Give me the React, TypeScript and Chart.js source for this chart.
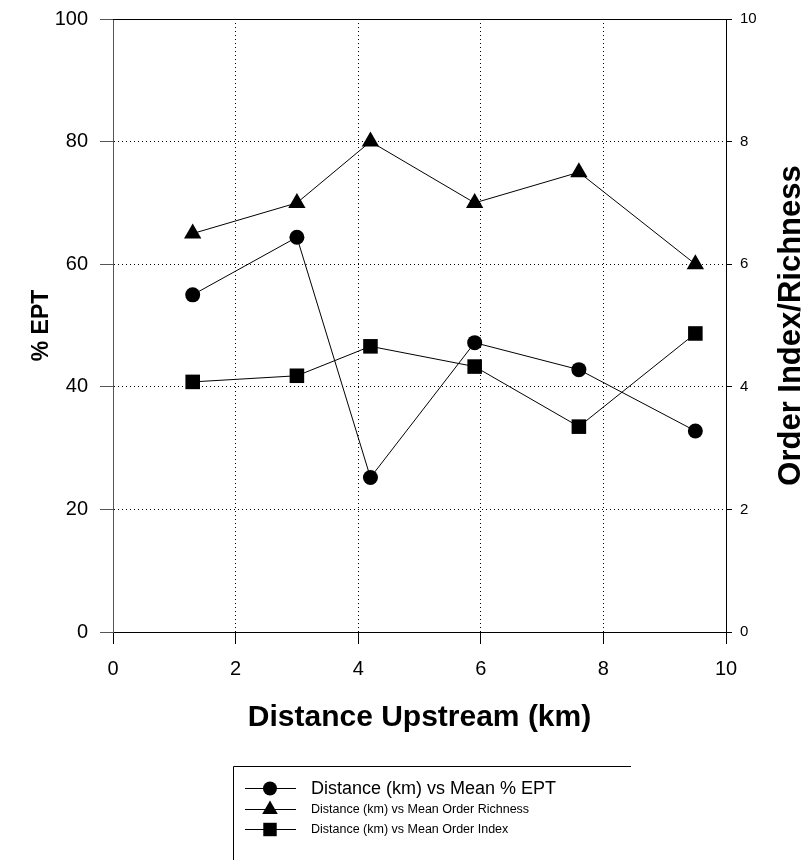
import React, { useEffect, useRef } from 'react';
import { Chart, registerables } from 'chart.js';

Chart.register(...registerables);

// ---- data ----
const distances = [1.3, 3.0, 4.2, 5.9, 7.6, 9.5];
const meanEPT = [55.0, 64.4, 25.2, 47.2, 42.8, 32.8];
const meanOrderRichness = [6.5, 7.0, 8.0, 7.0, 7.5, 6.0];
const meanOrderIndex = [4.08, 4.18, 4.66, 4.33, 3.35, 4.87];
const seriesLabels = [
  'Distance (km) vs Mean % EPT',
  'Distance (km) vs Mean Order Richness',
  'Distance (km) vs Mean Order Index',
];
const xTitle = 'Distance Upstream (km)';
const yTitle = '% EPT';
const y2Title = 'Order Index/Richness';

const FONT = '"Liberation Sans", Arial, Helvetica, sans-serif';

const toPoints = (xs: number[], ys: number[]) => xs.map((x, i) => ({ x, y: ys[i] }));

function drawMarker(ctx: CanvasRenderingContext2D, style: string, x: number, y: number, r: number) {
  ctx.beginPath();
  if (style === 'circle') {
    ctx.arc(x, y, r, 0, Math.PI * 2);
  } else if (style === 'triangle') {
    const w = r * Math.sin(Math.PI / 3);
    ctx.moveTo(x, y - r);
    ctx.lineTo(x + w, y + r / 2);
    ctx.lineTo(x - w, y + r / 2);
    ctx.closePath();
  } else {
    const s = r * Math.SQRT1_2;
    ctx.rect(x - s, y - s, 2 * s, 2 * s);
  }
  ctx.fill();
}

const decorPlugin = {
  id: 'decor',
  afterDraw(chart: any) {
    const { ctx, chartArea: a } = chart;
    ctx.save();
    // top frame line
    ctx.strokeStyle = '#000';
    ctx.lineWidth = 1;
    ctx.beginPath();
    ctx.moveTo(a.left, Math.round(a.top) + 0.5);
    ctx.lineTo(a.right + 1, Math.round(a.top) + 0.5);
    ctx.stroke();

    ctx.fillStyle = '#000';
    ctx.textAlign = 'center';
    ctx.textBaseline = 'middle';
    const cy = (a.top + a.bottom) / 2;
    // x title
    ctx.font = `bold 30px ${FONT}`;
    ctx.fillText(xTitle, (a.left + a.right) / 2, a.bottom + 86);
    // left title
    ctx.save();
    ctx.translate(42, cy);
    ctx.rotate(-Math.PI / 2);
    ctx.font = `bold 23px ${FONT}`;
    ctx.fillText(yTitle, 0, 0);
    ctx.restore();
    // right title
    ctx.save();
    ctx.translate(791, cy);
    ctx.rotate(-Math.PI / 2);
    ctx.font = `bold 31px ${FONT}`;
    ctx.fillText(y2Title, 0, 0);
    ctx.restore();

    // legend
    const lx = 233.5, ly = 766.5;
    ctx.beginPath();
    ctx.moveTo(lx, 870);
    ctx.lineTo(lx, ly);
    ctx.lineTo(631, ly);
    ctx.stroke();
    const rows = [788, 809, 829];
    const sizes = [18, 12.5, 12.5];
    chart.data.datasets.forEach((ds: any, i: number) => {
      const y = rows[i];
      ctx.beginPath();
      ctx.moveTo(245, y + 0.5);
      ctx.lineTo(296, y + 0.5);
      ctx.stroke();
      ctx.fillStyle = '#000';
      drawMarker(ctx, ds.pointStyle, 270, y + 0.5, ds.pointStyle === 'circle' ? 7 : ds.pointStyle === 'triangle' ? 9 : 9.5);
      ctx.font = `${sizes[i]}px ${FONT}`;
      ctx.textAlign = 'left';
      ctx.textBaseline = 'middle';
      ctx.fillText(ds.label, 311, y + 1);
    });
    ctx.restore();
  },
};

const hideEdges = (lo: number, hi: number) => (c: any) =>
  c.tick && (c.tick.value === lo || c.tick.value === hi) ? 'rgba(0,0,0,0)' : '#000';

export default function App() {
  const ref = useRef<HTMLCanvasElement>(null);
  useEffect(() => {
    const chart = new Chart(ref.current as HTMLCanvasElement, {
      type: 'line',
      data: {
        datasets: [
          {
            label: seriesLabels[0],
            data: toPoints(distances, meanEPT),
            yAxisID: 'y',
            borderColor: '#000',
            backgroundColor: '#000',
            borderWidth: 1,
            pointStyle: 'circle',
            pointRadius: 7.5,
            pointBackgroundColor: '#000',
            pointBorderWidth: 0,
          },
          {
            label: seriesLabels[1],
            data: toPoints(distances, meanOrderRichness),
            yAxisID: 'y2',
            borderColor: '#000',
            backgroundColor: '#000',
            borderWidth: 1,
            pointStyle: 'triangle',
            pointRadius: 10,
            pointBackgroundColor: '#000',
            pointBorderWidth: 0,
          },
          {
            label: seriesLabels[2],
            data: toPoints(distances, meanOrderIndex),
            yAxisID: 'y2',
            borderColor: '#000',
            backgroundColor: '#000',
            borderWidth: 1,
            pointStyle: 'rect',
            pointRadius: 10.3,
            pointBackgroundColor: '#000',
            pointBorderWidth: 0,
          },
        ],
      } as any,
      options: {
        responsive: false,
        animation: false,
        devicePixelRatio: 1,
        layout: { padding: { top: 19, left: 0, right: 0, bottom: 0 } },
        plugins: { legend: { display: false }, tooltip: { enabled: false } },
        scales: {
          x: {
            type: 'linear',
            position: 'bottom',
            min: 0,
            max: 10,
            ticks: { stepSize: 2, color: '#000', padding: 13, font: { size: 20, family: FONT } },
            grid: { color: hideEdges(0, 10), lineWidth: 1, tickLength: 12, tickColor: '#000' },
            border: { display: true, color: '#000', width: 1, dash: [1, 3] },
            afterFit: (s: any) => { s.height = 228; s.paddingLeft = 0; s.paddingRight = 0; },
          },
          y: {
            type: 'linear',
            position: 'left',
            min: 0,
            max: 100,
            ticks: { stepSize: 20, color: '#000', padding: 12, font: { size: 20, family: FONT } },
            grid: { color: hideEdges(0, 100), lineWidth: 1, tickLength: 13, tickColor: '#555' },
            border: { display: true, color: '#555', width: 1, dash: [1, 3] },
            afterFit: (s: any) => { s.width = 113; s.paddingTop = 0; s.paddingBottom = 0; },
          },
          y2: {
            type: 'linear',
            position: 'right',
            min: 0,
            max: 10,
            ticks: { stepSize: 2, color: '#000', padding: 8, font: { size: 15, family: FONT } },
            grid: { drawOnChartArea: false, tickLength: 6, tickColor: '#000' },
            border: { display: true, color: '#000', width: 1 },
            afterFit: (s: any) => { s.width = 78; s.paddingTop = 0; s.paddingBottom = 0; },
          },
        },
      } as any,
      plugins: [decorPlugin],
    });
    return () => chart.destroy();
  }, []);
  return (
    <div style={{ position: 'absolute', left: 0, top: 0, width: 804, height: 860, background: '#fff' }}>
      <canvas ref={ref} width={804} height={860} style={{ display: 'block', width: 804, height: 860 }} />
    </div>
  );
}
